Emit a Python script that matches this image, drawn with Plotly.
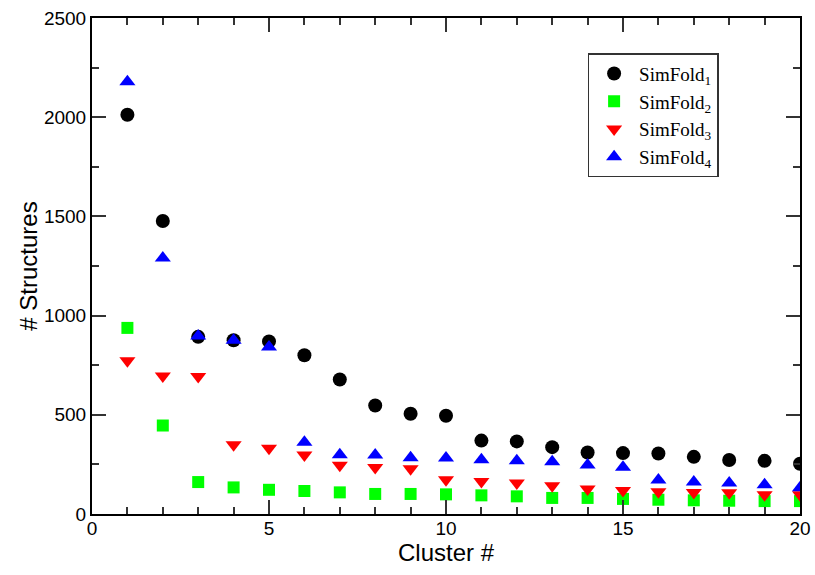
import plotly.graph_objects as go

clusters = list(range(1, 21))

simfold1 = [2012, 1477, 893, 876, 870, 800, 678, 547, 505, 495,
            370, 366, 337, 310, 307, 305, 288, 272, 268, 253]
simfold2 = [938, 446, 161, 134, 122, 116, 109, 101, 101, 99,
            94, 89, 81, 81, 76, 72, 69, 67, 65, 65]
simfold3 = [772, 696, 693, 349, 332, 297, 246, 235, 228, 173,
            164, 156, 142, 126, 119, 112, 108, 107, 97, 97]
simfold4 = [2179, 1290, 897, 876, 842, 362, 299, 297, 283, 282,
            273, 269, 263, 247, 236, 171, 161, 156, 148, 132]

series = [
    ("SimFold<sub>1</sub>", simfold1, "circle", "#000000", 14),
    ("SimFold<sub>2</sub>", simfold2, "square", "#00ff00", 12),
    ("SimFold<sub>3</sub>", simfold3, "triangle-down", "#ff0000", 14),
    ("SimFold<sub>4</sub>", simfold4, "triangle-up", "#0000ff", 14),
]

fig = go.Figure()
for i, (name, vals, sym, col, sz) in enumerate(series):
    fig.add_trace(go.Scatter(
        x=clusters, y=vals, mode="markers", name=name, legendgroup=f"g{i}",
        marker=dict(symbol=sym, color=col, size=sz, line=dict(width=0)),
    ))

sans = "Liberation Sans, Arial, sans-serif"
axis_common = dict(
    showline=True, linecolor="#000000", linewidth=2, mirror="allticks",
    ticks="inside", tickcolor="#333333", tickwidth=1.5, ticklen=14,
    showgrid=False, zeroline=False, automargin=False,
    tickfont=dict(family=sans, size=19, color="#000000"),
)
minor_common = dict(ticks="inside", ticklen=7, tickcolor="#333333", tickwidth=1.5)

fig.update_layout(
    width=815, height=575,
    margin=dict(l=92, r=15, t=18, b=61),
    paper_bgcolor="white", plot_bgcolor="white",
    xaxis=dict(range=[0, 20], dtick=5, tick0=0, ticklabelstandoff=-4,
               minor=dict(dtick=1, **minor_common),
               title=dict(text="Cluster #", standoff=0,
                          font=dict(family=sans, size=24, color="#000000")),
               **axis_common),
    yaxis=dict(range=[0, 2500], dtick=500, tick0=0,
               minor=dict(dtick=250, **minor_common),
               title=dict(text="# Structures", standoff=0,
                          font=dict(family=sans, size=24, color="#000000")),
               **axis_common),
    legend=dict(
        x=0.700, y=0.929, xanchor="left", yanchor="top",
        bgcolor="white", bordercolor="#333333", borderwidth=1.5,
        font=dict(family="Liberation Serif, Times New Roman, serif", size=19, color="#000000"),
        itemwidth=40, traceorder="grouped", tracegroupgap=0,
    ),
    showlegend=True,
)

fig.write_html("out.html")
